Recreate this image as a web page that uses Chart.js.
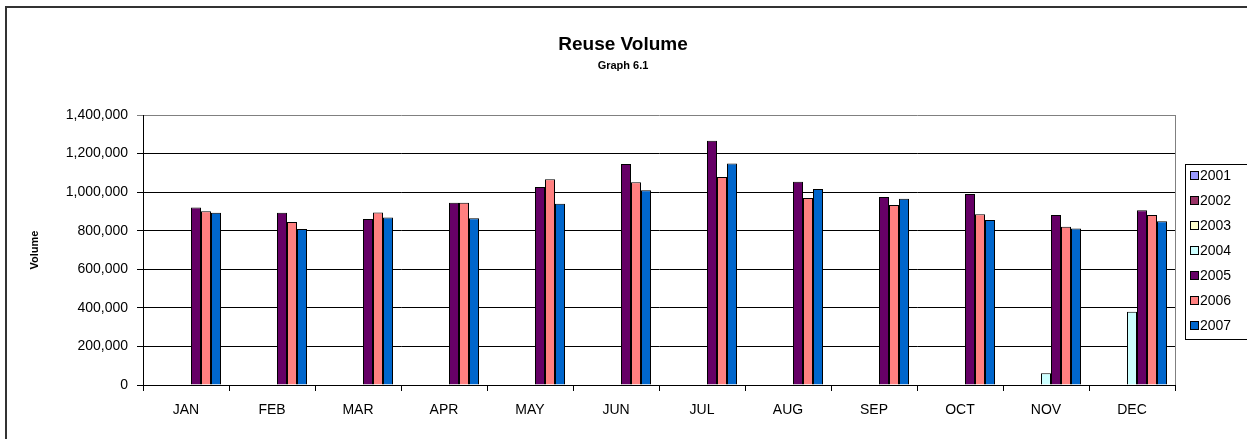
<!DOCTYPE html>
<html>
<head>
<meta charset="utf-8">
<script src="https://cdn.jsdelivr.net/npm/chart.js@4.4.1/dist/chart.umd.min.js"></script>
<style>
  html, body { margin: 0; padding: 0; background: #fff; }
  #wrap { width: 1247px; height: 439px; position: relative; }
</style>
</head>
<body>
<div id="wrap"><canvas id="c" width="1247" height="439"></canvas></div>
<script>
const months = ['JAN','FEB','MAR','APR','MAY','JUN','JUL','AUG','SEP','OCT','NOV','DEC'];
const seriesNames = ['2001','2002','2003','2004','2005','2006','2007'];
const v2001 = [null,null,null,null,null,null,null,null,null,null,null,null];
const v2002 = [null,null,null,null,null,null,null,null,null,null,null,null];
const v2003 = [null,null,null,null,null,null,null,null,null,null,null,null];
const v2004 = [null,null,null,null,null,null,null,null,null,null,61000,380000];
const v2005 = [921000,893000,861000,945000,1027000,1146000,1267000,1054000,975000,990000,882000,906000];
const v2006 = [901000,845000,895000,945000,1067000,1051000,1079000,970000,933000,885000,821000,882000];
const v2007 = [893000,809000,868000,864000,940000,1010000,1148000,1016000,966000,856000,812000,849000];
const yMin = 0, yMax = 1400000, yStep = 200000;
const titleText = 'Reuse Volume';
const subtitleText = 'Graph 6.1';
const yTitleText = 'Volume';

const colors = ['#9999FF','#993366','#FFFFCC','#CCFFFF','#660066','#FF8080','#0066CC'];
const allValues = [v2001,v2002,v2003,v2004,v2005,v2006,v2007];

const FONT = '"Liberation Sans", Arial, sans-serif';
const TICK_SIZE = 14;

const datasets = seriesNames.map((n, i) => ({
  label: n,
  data: allValues[i],
  backgroundColor: colors[i],
  borderColor: '#000000',
  borderWidth: 1,
  borderSkipped: 'start',
  categoryPercentage: 0.814,
  barPercentage: 1.0
}));

const framePlugin = {
  id: 'frame',
  afterDraw(chart) {
    const ctx = chart.ctx;
    const ca = chart.chartArea;
    ctx.save();
    // titles
    ctx.fillStyle = '#000';
    ctx.textAlign = 'center';
    ctx.textBaseline = 'middle';
    ctx.font = 'bold 19px ' + FONT;
    ctx.fillText(titleText, 623, 45);
    ctx.font = 'bold 11px ' + FONT;
    ctx.fillText(subtitleText, 623, 66);
    // plot area right border (gray)
    ctx.strokeStyle = '#808080';
    ctx.lineWidth = 1;
    ctx.beginPath();
    ctx.moveTo(Math.round(ca.right) + 0.5, ca.top);
    ctx.lineTo(Math.round(ca.right) + 0.5, ca.bottom);
    ctx.stroke();
    // outer frame
    ctx.strokeStyle = '#333333';
    ctx.lineWidth = 2;
    ctx.beginPath();
    ctx.moveTo(6, 439);
    ctx.lineTo(6, 7);
    ctx.lineTo(1247, 7);
    ctx.stroke();
    // legend
    const lx = 1185, ly = 164, lw = 80, lh = 175;
    ctx.strokeStyle = '#000000';
    ctx.lineWidth = 1;
    ctx.strokeRect(lx + 0.5, ly + 0.5, lw, lh);
    ctx.font = TICK_SIZE + 'px ' + FONT;
    ctx.textBaseline = 'middle';
    ctx.textAlign = 'left';
    chart.data.datasets.forEach((ds, i) => {
      const cy = ly + 12 + i * 25;
      ctx.fillStyle = ds.backgroundColor;
      ctx.fillRect(lx + 6, cy - 4, 7, 7);
      ctx.strokeStyle = '#000';
      ctx.strokeRect(lx + 5.5, cy - 4.5, 8, 8);
      ctx.fillStyle = '#000';
      ctx.fillText(ds.label, lx + 15, cy);
    });
    ctx.restore();
  }
};

new Chart(document.getElementById('c'), {
  type: 'bar',
  data: { labels: months, datasets },
  plugins: [framePlugin],
  options: {
    responsive: false,
    animation: false,
    devicePixelRatio: 1,
    layout: { padding: { left: 24, right: 72, top: 115, bottom: 0 } },
    plugins: {
      legend: { display: false },
      tooltip: { enabled: false },
      title: { display: false },
      subtitle: { display: false }
    },
    scales: {
      x: {
        offset: true,
        grid: {
          offset: true,
          drawOnChartArea: false,
          drawTicks: true,
          tickLength: 6,
          color: '#000'
        },
        border: { display: true, color: '#000', width: 1 },
        ticks: {
          color: '#000',
          font: { family: FONT, size: TICK_SIZE },
          padding: 11,
          maxRotation: 0,
          autoSkip: false
        },
        afterFit(scale) { scale.height = 54; }
      },
      y: {
        min: yMin,
        max: yMax,
        ticks: {
          stepSize: yStep,
          color: '#000',
          font: { family: FONT, size: TICK_SIZE },
          padding: 9,
          callback: (v) => Number(v).toLocaleString('en-US')
        },
        grid: {
          drawTicks: true,
          tickLength: 6,
          color: (c) => (c.tick && c.tick.value === yMax) ? '#808080' : '#000000',
          lineWidth: 1
        },
        border: { display: true, color: '#000', width: 1 },
        title: {
          display: true,
          text: yTitleText,
          color: '#000',
          font: { family: FONT, size: 11, weight: 'bold', lineHeight: 1.2 },
          padding: { top: 4, bottom: 4 }
        },
        afterFit(scale) { scale.width = 119; }
      }
    }
  }
});
</script>
</body>
</html>
